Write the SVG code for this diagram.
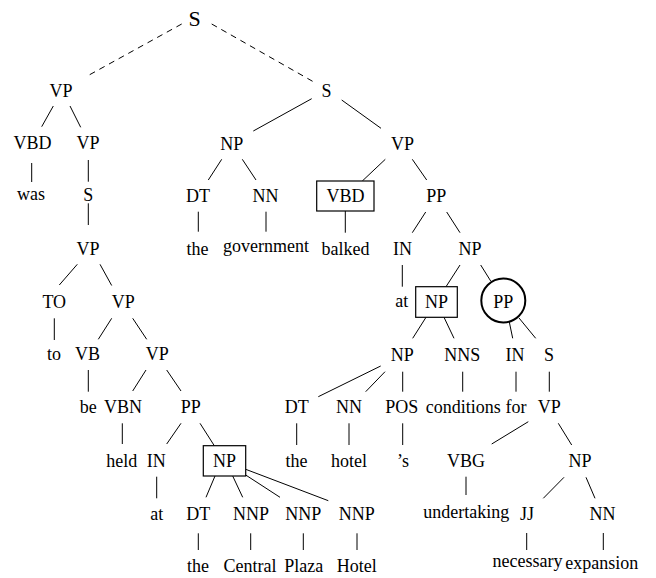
<svg xmlns="http://www.w3.org/2000/svg" width="656" height="578" viewBox="0 0 656 578" font-family="'Liberation Serif', 'Times New Roman', Times, serif">
<style>
text{font-family:'Liberation Serif','Times New Roman',Times,serif;font-size:18px;fill:#000;text-anchor:middle}
.root{font-size:22px}
.e{stroke:#000;stroke-width:1;fill:none}
.d{stroke-dasharray:6,5}
.box{fill:#fff;stroke:#000;stroke-width:1.2}
.circ{fill:#fff;stroke:#000;stroke-width:2}
</style>
<rect width="656" height="578" fill="#fff"/>
<g id="connectors">
<line class="e d" x1="181.7" y1="24" x2="87.3" y2="76"/>
<line class="e d" x1="211.7" y1="24" x2="313.3" y2="81.7"/>
<line class="e" x1="53.3" y1="106" x2="41.7" y2="126.7"/>
<line class="e" x1="70" y1="106" x2="80.7" y2="127.3"/>
<line class="e" x1="31.7" y1="163" x2="31.7" y2="182"/>
<line class="e" x1="88.3" y1="160" x2="88.3" y2="181.7"/>
<line class="e" x1="88.3" y1="203.3" x2="88.3" y2="225"/>
<line class="e" x1="311.7" y1="98.7" x2="253.3" y2="131"/>
<line class="e" x1="341.7" y1="100" x2="381" y2="128.3"/>
<line class="e" x1="221.7" y1="159.3" x2="208.3" y2="180"/>
<line class="e" x1="242.3" y1="159.3" x2="256" y2="180"/>
<line class="e" x1="385.3" y1="159.3" x2="362.3" y2="181"/>
<line class="e" x1="412.3" y1="159.3" x2="426.7" y2="180"/>
<line class="e" x1="198.3" y1="211.7" x2="198.3" y2="231.7"/>
<line class="e" x1="266" y1="211.7" x2="266" y2="231.7"/>
<line class="e" x1="345.3" y1="211" x2="345.3" y2="232.7"/>
<line class="e" x1="425.7" y1="212" x2="412.3" y2="232.7"/>
<line class="e" x1="446.7" y1="212" x2="460" y2="232.7"/>
<line class="e" x1="77.3" y1="264.3" x2="59.3" y2="285"/>
<line class="e" x1="100" y1="264.3" x2="111.7" y2="285.5"/>
<line class="e" x1="402.3" y1="265" x2="402.3" y2="286.7"/>
<line class="e" x1="460" y1="265" x2="446" y2="286.7"/>
<line class="e" x1="480.7" y1="265" x2="490.7" y2="281"/>
<line class="e" x1="54.3" y1="318.3" x2="54.3" y2="340"/>
<line class="e" x1="111.7" y1="318.3" x2="98.3" y2="339.3"/>
<line class="e" x1="132.7" y1="318.3" x2="146.7" y2="339.3"/>
<line class="e" x1="426" y1="317.3" x2="412.7" y2="338.3"/>
<line class="e" x1="444" y1="317.3" x2="454" y2="338.3"/>
<line class="e" x1="509.3" y1="322" x2="512.7" y2="338.3"/>
<line class="e" x1="519" y1="318" x2="535.7" y2="338.3"/>
<line class="e" x1="88.3" y1="370" x2="88.3" y2="391.7"/>
<line class="e" x1="146" y1="370" x2="132.7" y2="391"/>
<line class="e" x1="166.7" y1="370" x2="181" y2="391"/>
<line class="e" x1="380.7" y1="366" x2="318.3" y2="396.7"/>
<line class="e" x1="385" y1="371.7" x2="365.7" y2="391.7"/>
<line class="e" x1="402.7" y1="371.7" x2="402.7" y2="391.7"/>
<line class="e" x1="462.7" y1="371.7" x2="462.7" y2="391.7"/>
<line class="e" x1="516" y1="371.7" x2="516" y2="391.7"/>
<line class="e" x1="549.3" y1="371.7" x2="549.3" y2="391.7"/>
<line class="e" x1="122.3" y1="423.3" x2="122.3" y2="444"/>
<line class="e" x1="181" y1="423.3" x2="166.7" y2="444"/>
<line class="e" x1="200" y1="423.3" x2="214.3" y2="445.7"/>
<line class="e" x1="296.7" y1="423.3" x2="296.7" y2="445"/>
<line class="e" x1="349" y1="423.3" x2="349" y2="445"/>
<line class="e" x1="402.7" y1="423.3" x2="402.7" y2="445"/>
<line class="e" x1="528.3" y1="421.7" x2="491.7" y2="444"/>
<line class="e" x1="558.3" y1="423.3" x2="571.7" y2="445"/>
<line class="e" x1="156.7" y1="476.7" x2="156.7" y2="498.3"/>
<line class="e" x1="215" y1="476" x2="206" y2="497.3"/>
<line class="e" x1="232.7" y1="476" x2="242.7" y2="497.3"/>
<line class="e" x1="245.7" y1="475" x2="280" y2="497.3"/>
<line class="e" x1="245.7" y1="469.3" x2="328.3" y2="500.7"/>
<line class="e" x1="466" y1="476.7" x2="466" y2="495"/>
<line class="e" x1="564" y1="477.3" x2="543.3" y2="498.3"/>
<line class="e" x1="586" y1="477.3" x2="595" y2="498.3"/>
<line class="e" x1="198.3" y1="533.3" x2="198.3" y2="550"/>
<line class="e" x1="250.7" y1="533.3" x2="250.7" y2="550"/>
<line class="e" x1="303.3" y1="533.3" x2="303.3" y2="550"/>
<line class="e" x1="357" y1="533.3" x2="357" y2="550"/>
<line class="e" x1="526.7" y1="533" x2="526.7" y2="550"/>
<line class="e" x1="603.3" y1="533" x2="603.3" y2="550"/>
</g>
<g id="n-root"><text class="root" x="194.5" y="25.5">S</text></g>
<g id="n-vp1"><text x="61" y="96.5">VP</text></g>
<g id="n-s1"><text x="326.5" y="96.5">S</text></g>
<g id="n-vbd2"><text x="32.5" y="148.5">VBD</text></g>
<g id="n-vp2"><text x="88" y="148.5">VP</text></g>
<g id="n-np2"><text x="231.7" y="149.5">NP</text></g>
<g id="n-vp2r"><text x="402.5" y="149.5">VP</text></g>
<g id="n-was"><text x="31" y="200">was</text></g>
<g id="n-s3"><text x="88.3" y="201">S</text></g>
<g id="n-dt3"><text x="198" y="201.5">DT</text></g>
<g id="n-nn3"><text x="265.5" y="201.5">NN</text></g>
<g id="n-vbd3"><rect class="box" x="316.7" y="181" width="57.3" height="30"/><text x="345.5" y="201.5">VBD</text></g>
<g id="n-pp3"><text x="436.3" y="201.5">PP</text></g>
<g id="n-vp4"><text x="88" y="254.5">VP</text></g>
<g id="n-the4"><text x="197.5" y="254.5">the</text></g>
<g id="n-government"><text x="266" y="251.5">government</text></g>
<g id="n-balked"><text x="345.5" y="254.5">balked</text></g>
<g id="n-in4"><text x="402.5" y="254.5">IN</text></g>
<g id="n-np4"><text x="470" y="254.5">NP</text></g>
<g id="n-to5"><text x="54.3" y="307.5">TO</text></g>
<g id="n-vp5"><text x="123.3" y="307.5">VP</text></g>
<g id="n-at5"><text x="401.7" y="307">at</text></g>
<g id="n-np5"><rect class="box" x="415.7" y="286.7" width="41.6" height="30.6"/><text x="436.5" y="307.5">NP</text></g>
<g id="n-pp5"><circle class="circ" cx="503.3" cy="300.5" r="22"/><text x="503.3" y="307.5">PP</text></g>
<g id="n-to6"><text x="54" y="360">to</text></g>
<g id="n-vb6"><text x="87.5" y="360">VB</text></g>
<g id="n-vp6"><text x="157.2" y="360">VP</text></g>
<g id="n-np6"><text x="402.3" y="361">NP</text></g>
<g id="n-nns6"><text x="462.3" y="361">NNS</text></g>
<g id="n-in6"><text x="515" y="361">IN</text></g>
<g id="n-s6"><text x="549" y="361">S</text></g>
<g id="n-be"><text x="88.3" y="413">be</text></g>
<g id="n-vbn"><text x="123" y="413">VBN</text></g>
<g id="n-pp7"><text x="190.8" y="413">PP</text></g>
<g id="n-dt7"><text x="296.7" y="413">DT</text></g>
<g id="n-nn7"><text x="349" y="413">NN</text></g>
<g id="n-pos"><text x="401.7" y="413">POS</text></g>
<g id="n-conditions"><text x="463.3" y="413">conditions</text></g>
<g id="n-for"><text x="516" y="413">for</text></g>
<g id="n-vp7"><text x="549.2" y="413">VP</text></g>
<g id="n-held"><text x="121.7" y="466.5">held</text></g>
<g id="n-in8"><text x="156.2" y="466.5">IN</text></g>
<g id="n-np8box"><rect class="box" x="203.3" y="445.7" width="42.4" height="30.3"/><text x="224.5" y="466.5">NP</text></g>
<g id="n-the8"><text x="296.5" y="466.5">the</text></g>
<g id="n-hotel"><text x="349" y="466.5">hotel</text></g>
<g id="n-s-pos"><text x="403" y="466.5">’s</text></g>
<g id="n-vbg"><text x="466" y="466.5">VBG</text></g>
<g id="n-np8"><text x="580" y="466.5">NP</text></g>
<g id="n-at9"><text x="156.7" y="519.5">at</text></g>
<g id="n-dt9"><text x="198.3" y="520">DT</text></g>
<g id="n-nnp9a"><text x="251" y="520">NNP</text></g>
<g id="n-nnp9b"><text x="303.3" y="520">NNP</text></g>
<g id="n-nnp9c"><text x="356.7" y="520">NNP</text></g>
<g id="n-undertaking"><text x="466.3" y="518">undertaking</text></g>
<g id="n-jj"><text x="527" y="519.5">JJ</text></g>
<g id="n-nn9"><text x="602.5" y="519.5">NN</text></g>
<g id="n-the10"><text x="198" y="571.5">the</text></g>
<g id="n-central"><text x="250" y="571.5">Central</text></g>
<g id="n-plaza"><text x="303.7" y="571.5">Plaza</text></g>
<g id="n-hotel10"><text x="356.7" y="571.5">Hotel</text></g>
<g id="n-necessary"><text x="527.5" y="567">necessary</text></g>
<g id="n-expansion"><text x="601.7" y="569">expansion</text></g>
</svg>
